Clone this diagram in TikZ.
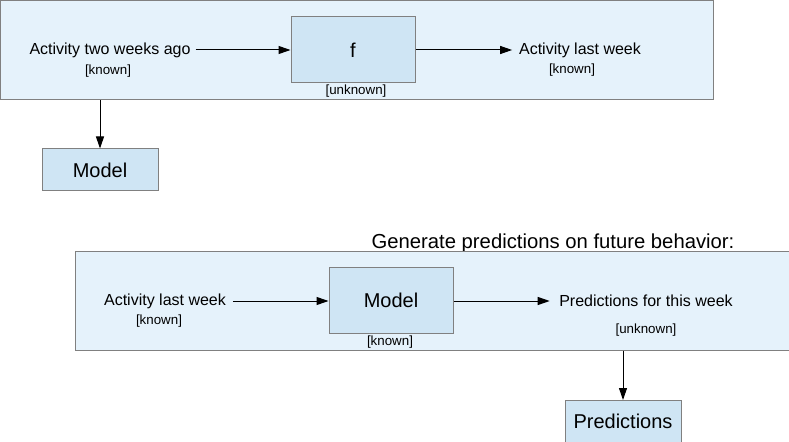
\documentclass[tikz,border=0pt]{standalone}
\usepackage{fontspec}
\setmainfont{Liberation Sans}
\usetikzlibrary{arrows.meta,calc}
\definecolor{contfill}{HTML}{E5F2FB}
\definecolor{boxfill}{HTML}{CFE5F4}
\definecolor{edge}{HTML}{808080}
\begin{document}
\begin{tikzpicture}[x=0.75pt,y=-0.75pt,
  container/.style={draw=edge,fill=contfill,line width=0.75pt},
  procbox/.style={draw=edge,fill=boxfill,line width=0.75pt,inner sep=0pt,font=\fontsize{15}{18}\selectfont},
  label/.style={inner sep=3.75pt,font=\fontsize{12}{14}\selectfont},
  tag/.style={inner sep=0pt,font=\fontsize{10}{12}\selectfont},
  conn/.style={-{Triangle[length=9pt,width=6pt]},line width=0.75pt,black}]
\useasboundingbox (0,0) rectangle (789,442);
% top container
\node[container,minimum width=535pt,minimum height=74.6pt,inner sep=0pt] (top) at (357.25,50.25) {};
\node[procbox,minimum width=93pt,minimum height=49.5pt] (f) at (353,50) {f};
\node[label] (a2w) at (110,50) {Activity two weeks ago};
\node[tag] (k1) at (108,71) {[known]};
\node[tag] (u1) at (356,91) {[unknown]};
\node[label,inner sep=5pt] (alw) at (580,50) {Activity last week};
\node[tag] (k2) at (572,70) {[known]};
\node[procbox,minimum width=87pt,minimum height=31.5pt] (m1) at (100,170) {Model};
\draw[conn] (a2w.east) -- (a2w.east -| f.west);
\draw[conn] (f.east |- alw.west) -- (alw.west);
\draw[conn] (top.south -| m1.north) -- (m1.north);
% bottom
\node[inner sep=0pt,font=\fontsize{15.2}{18}\selectfont] (title) at (553,243) {Generate predictions on future behavior:};
\node[container,minimum width=540pt,minimum height=74.25pt,inner sep=0pt] (bot) at (435,300.5) {};
\node[procbox,minimum width=93pt,minimum height=50pt] (m2) at (391,300.5) {Model};
\node[label,inner sep=5pt] (alw2) at (165,301) {Activity last week};
\node[tag] (k3) at (159,321) {[known]};
\node[tag] (k4) at (390,342) {[known]};
\node[label,inner sep=7pt] (pftw) at (646,301) {Predictions for this week};
\node[tag] (u2) at (646,330) {[unknown]};
\node[procbox,minimum width=87pt,minimum height=36pt,anchor=north] (pred) at (623,400) {};
\node[inner sep=0pt,font=\fontsize{15}{18}\selectfont] (predtxt) at (623,421) {Predictions};
\draw[conn] (alw2.east) -- (alw2.east -| m2.west);
\draw[conn] (m2.east |- pftw.west) -- (pftw.west);
\draw[conn] (bot.south -| pred.north) -- (pred.north);
\end{tikzpicture}
\end{document}
